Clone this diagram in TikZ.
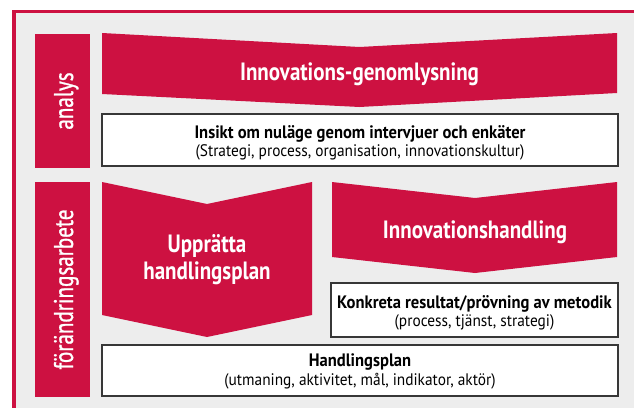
\documentclass[tikz,border=0pt]{standalone}
\usepackage{fontspec}
\setmainfont{PT Sans}[FakeStretch=0.92]
\newfontfamily\bandfont{PT Sans}[FakeStretch=0.84]
\newfontfamily\sidefont{PT Sans}[FakeStretch=0.78,FakeBold=1]
\usetikzlibrary{positioning}
\definecolor{brandred}{RGB}{205,17,65}
\definecolor{panelgray}{RGB}{237,237,237}
\definecolor{boxline}{RGB}{55,55,55}

\begin{document}
\begin{tikzpicture}[x=1pt,y=-1pt,
    sidebar/.style={fill=brandred,text=white,rotate=90,inner sep=0pt,
      font=\sidefont\fontsize{27}{29}\selectfont,text height=21pt,text depth=0pt},
    chevron/.style={fill=brandred},
    bandlabel/.style={text=white,align=center,inner sep=0pt,
      font=\bandfont\fontsize{25}{27}\selectfont\bfseries},
    infobox/.style={draw=boxline,line width=1.4pt,fill=white,align=center,
      inner sep=0pt,text height=33.4pt,text depth=0pt,
      font=\fontsize{16.7}{18.4}\selectfont}]
    % Panel and frame
    \useasboundingbox (0,0) rectangle (634,407);
    \clip (0,0) rectangle (634,407);
    \fill[panelgray] (14,11.7) rectangle (650,420);
    \draw[brandred,line width=3.3pt] (650,11.7) -- (14,11.7) -- (14,420);

    % Phase labels
    \node[sidebar,minimum width=134,minimum height=55] (analys) at (62.5,101) {analys};
    \node[sidebar,minimum width=215,minimum height=55] (forandring) at (62.5,289.5) {förändringsarbete};

    % Chevrons
    \fill[chevron] (102,33) -- (359.5,47) -- (617,33) -- (617,93) -- (359.5,107) -- (102,94) -- cycle;
    \node[bandlabel,anchor=base] (genomlysning) at (359.5,80) {Innovations-genomlysning};
    \fill[chevron] (102,182) -- (207,204) -- (312,182) -- (312,315) -- (207,337) -- (102,315) -- cycle;
    \node[bandlabel,anchor=base] (uppratta) at (207,279) {Upprätta\\handlingsplan};
    \fill[chevron] (332,182) -- (475,198) -- (617,182) -- (617,257) -- (475,273) -- (332,257) -- cycle;
    \node[bandlabel,anchor=base] (handling) at (475,238) {Innovationshandling};

    % Boxes
    \node[infobox,minimum width=516,minimum height=52] (insikt) at (360,140)
      {\textbf{\fontsize{18}{18.4}\selectfont Insikt om nuläge genom intervjuer och enkäter}\\(Strategi, process, organisation, innovationskultur)};
    \node[infobox,minimum width=287,minimum height=54] (konkreta) at (474.5,310)
      {\textbf{\fontsize{18}{18.4}\selectfont Konkreta resultat/prövning av metodik}\\(process, tjänst, strategi)};
    \node[infobox,minimum width=516,minimum height=51,text height=29pt] (handlingsplan) at (360,370.5)
      {\textbf{\fontsize{18}{18.4}\selectfont Handlingsplan}\\(utmaning, aktivitet, mål, indikator, aktör)};
\end{tikzpicture}
\end{document}
